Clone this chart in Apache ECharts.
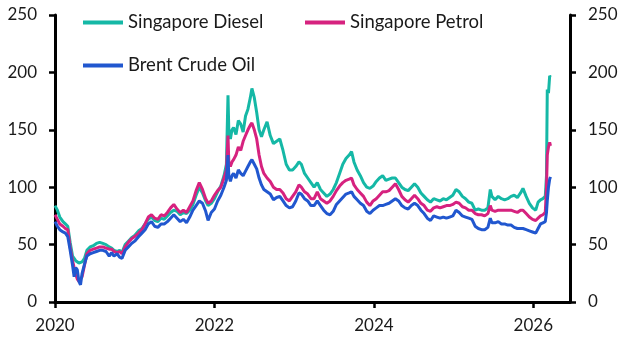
<!DOCTYPE html>
<html>
<head>
<meta charset="utf-8">
<script src="https://cdn.jsdelivr.net/npm/echarts@6/dist/echarts.min.js"></script>
<style>html,body{margin:0;padding:0;background:#fff;}#c{width:630px;height:353px;}</style>
</head>
<body>
<div id="c"></div>
<script>
// Dates as decimal years
const dates = [
  2020.00,2020.03,2020.06,2020.10,2020.13,2020.16,2020.19,2020.22,2020.24,2020.26,2020.28,2020.30,2020.32,2020.34,2020.37,2020.40,2020.44,2020.48,2020.52,2020.56,2020.60,2020.64,2020.68,2020.71,2020.74,2020.78,2020.81,2020.84,2020.88,2020.92,2020.96,
  2021.00,2021.05,2021.09,2021.13,2021.17,2021.21,2021.25,2021.29,2021.33,2021.37,2021.41,2021.45,2021.49,2021.53,2021.57,2021.61,2021.65,2021.69,2021.73,2021.77,2021.81,2021.85,2021.89,2021.92,2021.96,
  2022.00,2022.04,2022.08,2022.12,2022.15,2022.17,2022.18,2022.20,2022.22,2022.24,2022.27,2022.30,2022.33,2022.36,2022.39,2022.42,2022.45,2022.47,2022.50,2022.53,2022.56,2022.59,2022.62,2022.66,2022.70,2022.74,2022.78,2022.82,2022.86,2022.90,2022.94,2022.98,
  2023.02,2023.06,2023.09,2023.13,2023.17,2023.21,2023.25,2023.29,2023.33,2023.37,2023.41,2023.45,2023.49,2023.53,2023.57,2023.61,2023.65,2023.69,2023.72,2023.75,2023.79,2023.83,2023.87,2023.91,2023.95,2023.99,
  2024.03,2024.07,2024.11,2024.15,2024.19,2024.23,2024.27,2024.31,2024.35,2024.39,2024.43,2024.47,2024.51,2024.55,2024.59,2024.63,2024.67,2024.71,2024.75,2024.79,2024.83,2024.87,2024.91,2024.95,2024.99,
  2025.03,2025.07,2025.11,2025.15,2025.19,2025.23,2025.27,2025.31,2025.35,2025.39,2025.43,2025.46,2025.48,2025.52,2025.56,2025.60,2025.64,2025.68,2025.72,2025.76,2025.80,2025.84,2025.87,2025.91,2025.95,2025.99,
  2026.03,2026.06,2026.09,2026.12,2026.15,2026.165,2026.175,2026.19,2026.205,2026.215
];
const diesel = [
  84,80,74,70,68,66,52,40,38,36,35,34,33,35,38,45,48,49,51,52,51,50,48,47,45,44,45,43,50,53,56,
  58,62,64,68,72,74,71,70,73,72,75,78,80,79,76,78,77,80,85,93,100,95,88,84,86,
  90,96,101,110,120,180,150,142,150,152,146,158,155,148,162,168,178,186,178,165,150,144,150,157,145,138,140,142,132,120,115,115,
  118,122,120,112,108,104,100,104,98,95,92,94,98,104,112,120,125,128,131,122,115,110,104,100,99,101,
  105,108,110,106,107,108,108,104,100,98,97,100,103,100,95,92,89,87,90,89,88,90,89,91,93,
  98,96,92,90,87,86,80,81,80,80,82,98,92,89,92,90,89,90,92,93,91,95,99,92,86,82,
  80,87,89,90,92,110,185,182,197,196
];
const petrol = [
  76,72,68,66,64,63,48,36,30,24,20,18,18,22,32,42,45,46,47,48,48,47,46,46,44,43,44,42,48,52,55,
  57,60,63,68,74,76,73,72,76,75,78,82,85,81,78,80,78,83,88,97,104,98,90,86,88,
  93,97,100,108,115,145,122,118,122,124,128,135,132,140,145,150,154,156,150,142,128,118,112,108,105,100,98,98,95,90,88,92,
  96,102,100,96,94,90,90,96,90,88,86,88,92,97,101,104,106,107,108,102,98,95,92,87,84,88,
  90,93,96,96,97,100,103,98,92,89,87,90,93,90,86,84,80,79,82,83,82,83,84,84,85,
  87,86,83,82,80,80,77,76,76,75,77,84,80,79,80,80,80,80,80,79,78,80,80,77,74,72,
  71,73,75,76,78,100,128,135,139,136
];
const brent = [
  70,66,63,61,60,57,45,32,22,30,28,18,15,25,33,40,42,43,44,45,45,44,40,43,40,42,39,38,45,48,51,
  53,57,60,63,68,70,66,65,68,68,70,73,76,73,70,72,69,74,80,84,88,86,79,71,78,
  81,88,93,100,106,128,110,105,110,112,108,115,112,110,114,118,122,124,120,116,108,102,98,96,94,89,91,92,88,84,82,83,
  88,95,94,90,88,84,84,88,84,80,77,76,79,85,88,91,94,95,96,92,89,86,84,79,77,80,
  82,84,84,85,86,88,90,88,84,82,81,84,86,84,80,77,73,71,75,74,73,74,73,74,75,
  80,78,75,74,73,72,66,64,63,63,65,73,69,69,70,68,68,67,67,65,64,64,64,63,62,61,
  60,64,68,69,70,78,88,100,107,109
];
const seriesNames = ['Singapore Diesel', 'Singapore Petrol', 'Brent Crude Oil'];
const xTicks = [2020, 2022, 2024, 2026];
const yMin = 0, yMax = 250, yStep = 50;

const FONT = 'Lato';
const TXT = '#1a1a1a';
const colors = ['#15b8a6', '#d6227f', '#2157cf'];
const values = [diesel, petrol, brent];

const chart = echarts.init(document.getElementById('c'), null, {renderer: 'canvas'});
const yAxisBase = {
  type: 'value', min: yMin, max: yMax, interval: yStep,
  axisLine: {show: true, lineStyle: {color: '#000', width: 3}},
  axisTick: {show: true, length: 6, lineStyle: {color: '#000', width: 2.5}},
  axisLabel: {fontSize: 17, fontFamily: FONT, color: TXT, margin: 18},
  splitLine: {show: false}
};
const legendBase = {
  icon: 'rect', itemWidth: 40, itemHeight: 4, padding: 0, selectedMode: false,
  textStyle: {fontSize: 18.5, fontFamily: FONT, color: TXT}
};
chart.setOption({
  animation: false,
  backgroundColor: '#fff',
  color: colors,
  grid: {left: 55, right: 60, top: 15, bottom: 51, containLabel: false},
  legend: [
    Object.assign({}, legendBase, {data: [seriesNames[0]], left: 83, top: 13}),
    Object.assign({}, legendBase, {data: [seriesNames[1]], left: 305, top: 13}),
    Object.assign({}, legendBase, {data: [seriesNames[2]], left: 83, top: 56})
  ],
  xAxis: {
    type: 'value', min: 2020, max: 2026.46,
    axisLine: {show: true, onZero: false, lineStyle: {color: '#000', width: 3}},
    axisTick: {show: true, length: 6, customValues: xTicks, lineStyle: {color: '#000', width: 2.5}},
    axisLabel: {customValues: xTicks, fontSize: 17, fontFamily: FONT, color: TXT, margin: 15,
      formatter: v => String(Math.round(v))},
    splitLine: {show: false}
  },
  yAxis: [
    Object.assign({}, yAxisBase, {position: 'left'}),
    Object.assign({}, yAxisBase, {position: 'right'})
  ],
  series: seriesNames.map((name, k) => ({
    name: name, type: 'line', yAxisIndex: 0, showSymbol: false, symbol: 'none',
    lineStyle: {width: 3, color: colors[k]},
    itemStyle: {color: colors[k]},
    data: dates.map((d, i) => [d, values[k][i]])
  }))
});
</script>
</body>
</html>
